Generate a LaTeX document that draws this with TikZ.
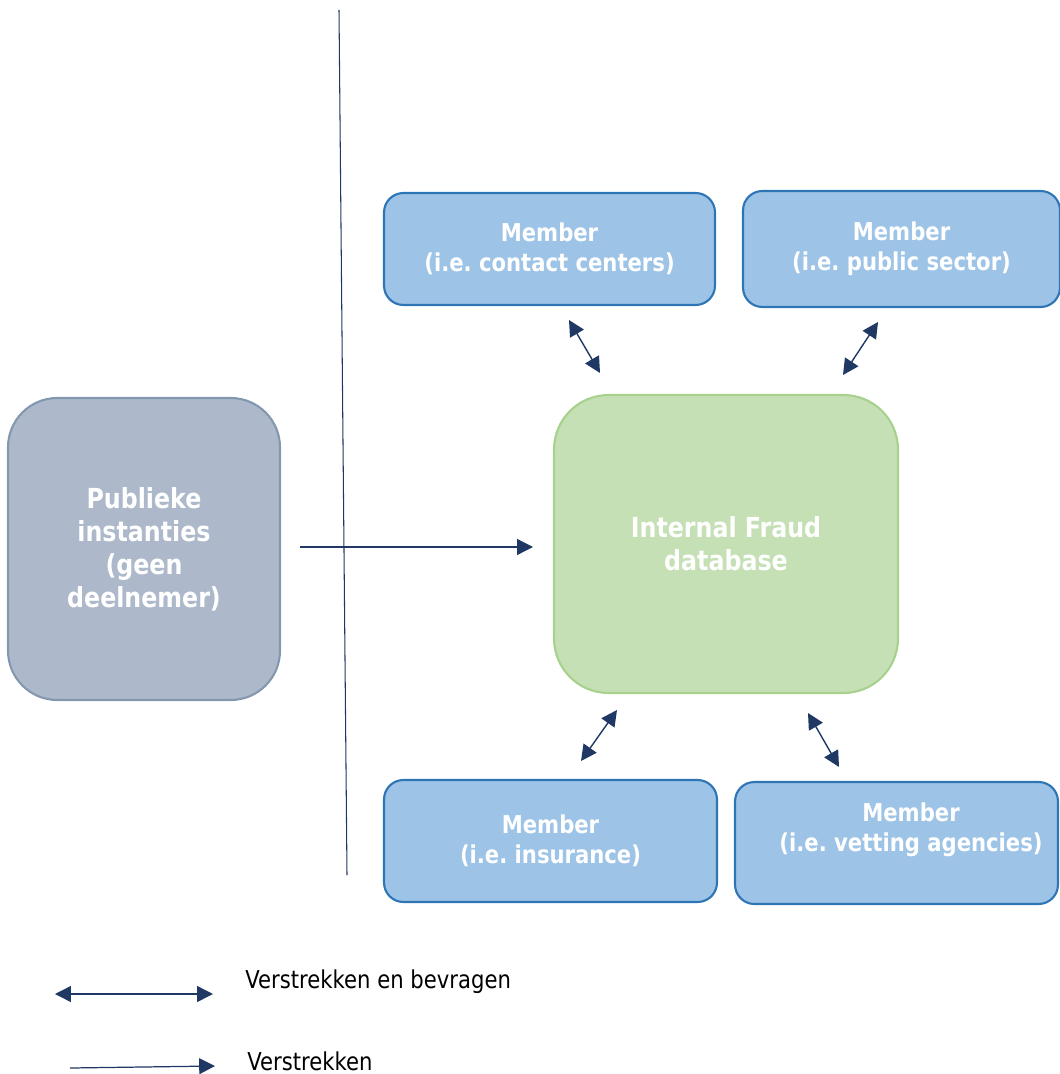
\documentclass[tikz,border=0pt]{standalone}
\usepackage{fontspec}
\setmainfont{DejaVu Sans}[FakeStretch=0.86]
\usetikzlibrary{arrows.meta}
\frenchspacing

\definecolor{memberfill}{HTML}{9DC3E6}
\definecolor{memberline}{HTML}{2E75B6}
\definecolor{dbfill}{HTML}{C5E0B4}
\definecolor{dbline}{HTML}{A9D18E}
\definecolor{pubfill}{HTML}{ADB9CA}
\definecolor{publine}{HTML}{8497B0}
\definecolor{navy}{HTML}{1F3864}

\tikzset{
  member/.style={draw=memberline, fill=memberfill, line width=1.2pt, rounded corners=11pt,
    text=white, align=center, inner sep=0pt, font=\bfseries\fontsize{14}{17}\selectfont},
  bigbox/.style={line width=1.2pt, text=white, align=center, inner sep=0pt,
    font=\bfseries\fontsize{15.7}{18.8}\selectfont},
  both/.style={navy, line width=0.8pt, {Triangle[length=9pt,width=9pt]}-{Triangle[length=9pt,width=9pt]}},
  give/.style={navy, line width=0.7pt, -{Triangle[length=9pt,width=9pt]}},
  legend/.style={anchor=west, inner sep=0pt, font=\fontsize{14}{16}\selectfont}
}

\begin{document}
\begin{tikzpicture}[x=0.02cm,y=-0.02cm]
    \useasboundingbox (0,0) rectangle (1060,1074);

    % Members on top
    \node[member, minimum width=6.62cm, minimum height=2.24cm] (mcc) at (549.5,249)
        {Member\\(i.e. contact centers)};
    \node[member, minimum width=6.34cm, minimum height=2.32cm] (mps) at (901.5,249)
        {Member\\(i.e. public sector)};

    % Database and public bodies
    \node[bigbox, draw=dbline, fill=dbfill, rounded corners=31pt,
        minimum width=6.88cm, minimum height=5.96cm] (db) at (726,544)
        {Internal Fraud\\database};
    \node[bigbox, draw=publine, fill=pubfill, rounded corners=28pt,
        minimum width=5.44cm, minimum height=6.04cm] (pub) at (144,549)
        {Publieke\\instanties\\(geen\\deelnemer)};

    % Members at the bottom
    \node[member, minimum width=6.66cm, minimum height=2.44cm] (mins) at (550.5,841)
        {Member\\(i.e. insurance)};
    \node[member, minimum width=6.46cm, minimum height=2.44cm] (mvet) at (896.5,843) {};
    \node[member, draw=none, fill=none] (mvettext) at (911,830)
        {Member\\(i.e. vetting agencies)};

    % Dividing line
    \coordinate (wtop) at (339,10);
    \coordinate (wbot) at (347,875);
    \draw[navy, line width=0.6pt] (wtop) -- (wbot);

    % Exchange arrows
    \coordinate (a1) at (569,320); \coordinate (b1) at (600,373);
    \coordinate (a2) at (878,322); \coordinate (b2) at (843,375);
    \coordinate (a3) at (617,710); \coordinate (b3) at (581,761);
    \coordinate (a4) at (808,713); \coordinate (b4) at (839,767);
    \draw[both] (a1) -- (b1);
    \draw[both] (a2) -- (b2);
    \draw[both] (a3) -- (b3);
    \draw[both] (a4) -- (b4);

    % Public bodies only supply
    \coordinate (pubout) at (300,547);
    \coordinate (dbin) at (533,547);
    \draw[give] (pubout) -- (dbin);

    % Legend
    \coordinate (l1a) at (55,994); \coordinate (l1b) at (213,994);
    \draw[both] (l1a) -- (l1b);
    \node[legend] (l1) at (245,982) {Verstrekken en bevragen};
    \coordinate (l2a) at (70,1068); \coordinate (l2b) at (215,1066);
    \draw[give] (l2a) -- (l2b);
    \node[legend] (l2) at (247,1061) {Verstrekken};
\end{tikzpicture}
\end{document}
